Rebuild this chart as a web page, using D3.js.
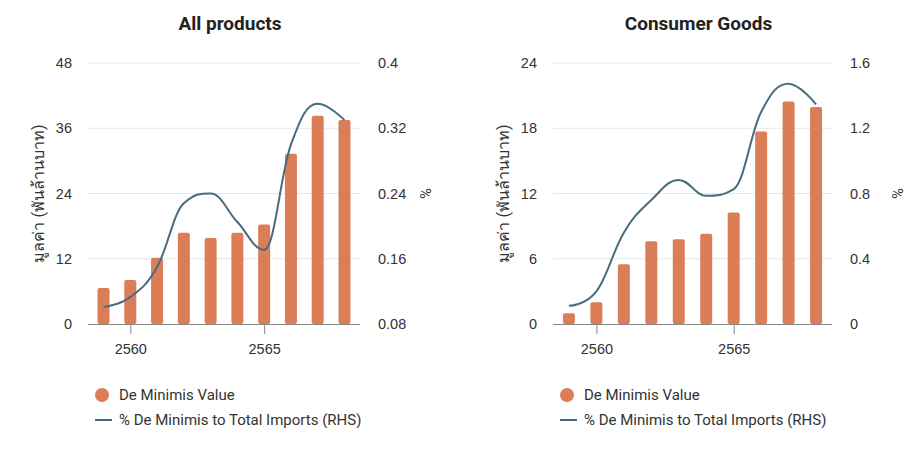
<!DOCTYPE html>
<html>
<head>
<meta charset="utf-8">
<script src="https://cdn.jsdelivr.net/npm/d3@7"></script>
<style>
  body { margin: 0; background: #fff; }
  svg { font-family: Roboto, "Noto Sans", "DejaVu Sans", sans-serif; }
</style>
</head>
<body>
<svg id="canvas" width="920" height="450"></svg>
<script>
// years (Thai Buddhist era)
let years = [2559, 2560, 2561, 2562, 2563, 2564, 2565, 2566, 2567, 2568]
let xTicks = [2560, 2565]

// All products
let allValue = [6.6, 8.1, 12.2, 16.8, 15.8, 16.8, 18.3, 31.3, 38.3, 37.5]
let allShare = [0.101, 0.113, 0.150, 0.228, 0.240, 0.205, 0.171, 0.300, 0.350, 0.330]
let allLeftTicks = [0, 12, 24, 36, 48]
let allRightTicks = [0.08, 0.16, 0.24, 0.32, 0.4]

// Consumer Goods
let consValue = [1.0, 2.0, 5.5, 7.6, 7.8, 8.3, 10.25, 17.7, 20.45, 19.95]
let consShare = [0.112, 0.200, 0.560, 0.760, 0.883, 0.786, 0.827, 1.300, 1.473, 1.347]
let consLeftTicks = [0, 6, 12, 18, 24]
let consRightTicks = [0, 0.4, 0.8, 1.2, 1.6]

let barColor = '#db7d57'
let lineColor = '#466d7e'
let textColor = '#333'

let canvas = d3.select('#canvas')

// Highcharts-like spline path through pixel points
let splinePath = (pts) => {
  let p = d3.path()
  let smoothing = 1.5, denom = smoothing + 1
  let rc = []
  pts.forEach((pt, i) => {
    let [x, y] = pt
    let lcx = x, lcy = y
    if (i > 0 && i < pts.length - 1) {
      let [lx, ly] = pts[i - 1]
      let [nx, ny] = pts[i + 1]
      lcx = (smoothing * x + lx) / denom
      lcy = (smoothing * y + ly) / denom
      let rcx = (smoothing * x + nx) / denom
      let rcy = (smoothing * y + ny) / denom
      if (rcx !== lcx) {
        let corr = ((rcy - lcy) * (rcx - x)) / (rcx - lcx) + y - rcy
        lcy += corr
        rcy += corr
      }
      if (lcy > ly && lcy > y) { lcy = Math.max(ly, y); rcy = 2 * y - lcy }
      else if (lcy < ly && lcy < y) { lcy = Math.min(ly, y); rcy = 2 * y - lcy }
      if (rcy > ny && rcy > y) { rcy = Math.max(ny, y); lcy = 2 * y - rcy }
      else if (rcy < ny && rcy < y) { rcy = Math.min(ny, y); lcy = 2 * y - rcy }
      rc[i] = [rcx, rcy]
    }
    if (i === 0) {
      p.moveTo(x, y)
    } else {
      let prc = rc[i - 1] || pts[i - 1]
      p.bezierCurveTo(prc[0], prc[1], lcx, lcy, x, y)
    }
  })
  return p.toString()
}

let drawChart = (plotLeft, plotRight, title, values, shares, leftTicks, rightTicks) => {
  let top = 63, bottom = 324
  let g = canvas.append('g')

  let x = d3.scaleLinear().domain([2558.42, 2568.58]).range([plotLeft, plotRight])
  let yL = d3.scaleLinear().domain([leftTicks[0], leftTicks[leftTicks.length - 1]]).range([bottom, top])
  let yR = d3.scaleLinear().domain([rightTicks[0], rightTicks[rightTicks.length - 1]]).range([bottom, top])

  // title
  g.append('text')
   .attr('x', (plotLeft + plotRight) / 2 + 6)
   .attr('y', 30)
   .attr('text-anchor', 'middle')
   .attr('font-size', 19)
   .attr('font-weight', 'bold')
   .attr('fill', '#222')
   .text(title)

  // grid lines
  g.selectAll('line.grid')
   .data(leftTicks.slice(1))
   .enter()
   .append('line')
   .attr('class', 'grid')
   .attr('x1', plotLeft).attr('x2', plotRight)
   .attr('y1', d => yL(d)).attr('y2', d => yL(d))
   .attr('stroke', '#e6e6e6')

  // left axis
  let leftAxis = d3.axisLeft(yL).tickValues(leftTicks).tickSize(0).tickPadding(16)
  let la = g.append('g').attr('transform', `translate(${plotLeft},0)`).call(leftAxis)
  la.select('.domain').remove()
  la.selectAll('text').attr('font-size', 14.5).attr('fill', textColor).attr('font-family', null)

  // right axis
  let rightAxis = d3.axisRight(yR).tickValues(rightTicks).tickSize(0).tickPadding(18)
                    .tickFormat(d => d3.format('~g')(d))
  let ra = g.append('g').attr('transform', `translate(${plotRight},0)`).call(rightAxis)
  ra.select('.domain').remove()
  ra.selectAll('text').attr('font-size', 14.5).attr('fill', textColor).attr('font-family', null)

  // axis titles
  g.append('text')
   .attr('transform', `translate(${plotLeft - 50},${(top + bottom) / 2}) rotate(-90)`)
   .attr('text-anchor', 'middle')
   .attr('dy', '0.35em')
   .attr('font-size', 16)
   .attr('fill', textColor)
   .text('มูลค่า (พันล้านบาท)')

  g.append('text')
   .attr('transform', `translate(${plotRight + 65},${(top + bottom) / 2}) rotate(90)`)
   .attr('text-anchor', 'middle')
   .attr('dy', '0.35em')
   .attr('font-size', 15)
   .attr('fill', textColor)
   .text('%')

  // bars
  let bw = 12
  g.selectAll('rect.bar')
   .data(values)
   .enter()
   .append('rect')
   .attr('class', 'bar')
   .attr('x', (d, i) => x(years[i]) - bw / 2)
   .attr('y', d => yL(d))
   .attr('width', bw)
   .attr('height', d => bottom - yL(d))
   .attr('rx', 2)
   .attr('fill', barColor)

  // bottom axis
  let bottomAxis = d3.axisBottom(x).tickValues(xTicks).tickSize(10).tickPadding(10).tickFormat(d3.format('d'))
  let ba = g.append('g').attr('transform', `translate(0,${bottom})`).call(bottomAxis)
  ba.select('.domain').attr('d', `M${plotLeft},0.5H${plotRight}`).attr('stroke', '#888')
  ba.selectAll('.tick line').attr('stroke', '#888')
  ba.selectAll('text').attr('font-size', 14.5).attr('fill', textColor).attr('font-family', null)

  // line
  let pts = shares.map((d, i) => [x(years[i]), yR(d)])
  g.append('path')
   .attr('d', splinePath(pts))
   .attr('fill', 'none')
   .attr('stroke', lineColor)
   .attr('stroke-width', 2)

  // legend
  let lg = g.append('g').attr('transform', `translate(${plotLeft},0)`)
  lg.append('circle').attr('cx', 14).attr('cy', 395).attr('r', 7).attr('fill', barColor)
  lg.append('text').attr('x', 31).attr('y', 395).attr('dy', '0.35em')
    .attr('font-size', 15).attr('fill', textColor).text('De Minimis Value')
  lg.append('line').attr('x1', 7).attr('x2', 24).attr('y1', 420).attr('y2', 420)
    .attr('stroke', lineColor).attr('stroke-width', 2)
  lg.append('text').attr('x', 31).attr('y', 420).attr('dy', '0.35em')
    .attr('font-size', 15).attr('fill', textColor).text('% De Minimis to Total Imports (RHS)')
}

drawChart(88, 360, 'All products', allValue, allShare, allLeftTicks, allRightTicks)
drawChart(553, 832, 'Consumer Goods', consValue, consShare, consLeftTicks, consRightTicks)
</script>
</body>
</html>
